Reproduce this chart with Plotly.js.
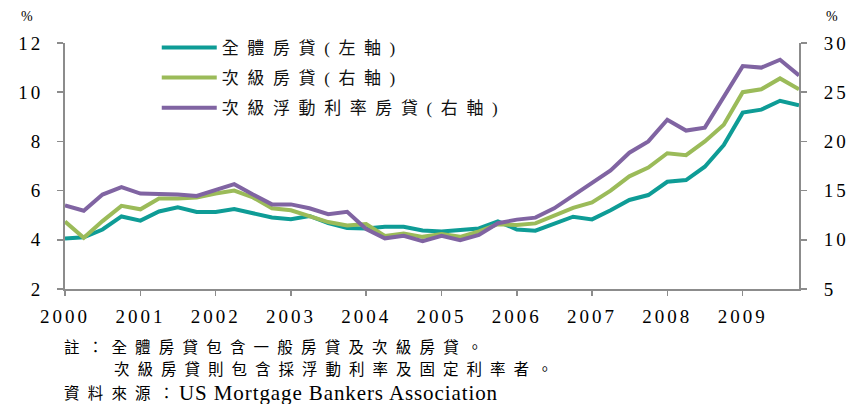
<!DOCTYPE html>
<html>
<head>
<meta charset="utf-8">
<script src="https://cdn.plot.ly/plotly-3.0.1.min.js"></script>
<style>
  html, body { margin: 0; padding: 0; background: #fff; }
  #chart { width: 854px; height: 404px; }
  .xtick text, .ytick text, .y2tick text {
    letter-spacing: 3px; font-family: 'Liberation Serif', serif !important;
  }
  .legendtext {
    letter-spacing: 8.6px; font-family: 'Liberation Serif', 'Noto Sans CJK TC', serif !important;
  }
  .annotation-text { font-family: 'Liberation Serif', 'Noto Sans CJK TC', serif !important; }
</style>
</head>
<body>
<div id="chart"></div>
<script>
// Quarterly observations, 2000Q1 - 2009Q4
const quarters = [
  '2000-01-01','2000-04-01','2000-07-01','2000-10-01',
  '2001-01-01','2001-04-01','2001-07-01','2001-10-01',
  '2002-01-01','2002-04-01','2002-07-01','2002-10-01',
  '2003-01-01','2003-04-01','2003-07-01','2003-10-01',
  '2004-01-01','2004-04-01','2004-07-01','2004-10-01',
  '2005-01-01','2005-04-01','2005-07-01','2005-10-01',
  '2006-01-01','2006-04-01','2006-07-01','2006-10-01',
  '2007-01-01','2007-04-01','2007-07-01','2007-10-01',
  '2008-01-01','2008-04-01','2008-07-01','2008-10-01',
  '2009-01-01','2009-04-01','2009-07-01','2009-10-01'
];
const yearTicks = ['2000-01-01','2001-01-01','2002-01-01','2003-01-01','2004-01-01',
                   '2005-01-01','2006-01-01','2007-01-01','2008-01-01','2009-01-01'];

// 全體房貸 (left axis, %)
const allLoans = [
  4.05, 4.10, 4.42, 4.95, 4.78, 5.15, 5.32, 5.13, 5.13, 5.25,
  5.08, 4.91, 4.84, 4.97, 4.68, 4.48, 4.46, 4.53, 4.53, 4.38,
  4.34, 4.40, 4.46, 4.75, 4.42, 4.37, 4.65, 4.94, 4.83, 5.20,
  5.62, 5.82, 6.36, 6.43, 6.97, 7.85, 9.17, 9.29, 9.65, 9.47
];
// 次級房貸 (right axis, %)
const subprime = [
  11.85, 10.20, 11.90, 13.45, 13.10, 14.20, 14.20, 14.30, 14.70, 15.00,
  14.30, 13.20, 13.00, 12.40, 11.80, 11.45, 11.60, 10.40, 10.65, 10.30,
  10.60, 10.30, 10.85, 11.58, 11.50, 11.67, 12.45, 13.25, 13.80, 15.00,
  16.45, 17.35, 18.80, 18.60, 20.00, 21.70, 25.00, 25.30, 26.40, 25.30
];
// 次級浮動利率房貸 (right axis, %)
const subprimeArm = [
  13.50, 12.95, 14.60, 15.35, 14.70, 14.70, 14.60, 14.45, 15.05, 15.65,
  14.60, 13.60, 13.60, 13.20, 12.60, 12.85, 11.10, 10.15, 10.40, 9.85,
  10.40, 9.95, 10.50, 11.68, 12.05, 12.25, 13.20, 14.50, 15.85, 17.05,
  18.85, 20.00, 22.20, 21.10, 21.40, 24.50, 27.65, 27.50, 28.30, 26.70
];

const names = ['全體房貸(左軸)', '次級房貸(右軸)', '次級浮動利率房貸(右軸)'];
const colors = ['#0e9c96', '#9bbb59', '#8064a2'];

const latin = 'Liberation Serif';
const cjk = 'Liberation Serif, Noto Sans CJK TC';
const axisGray = '#8c8c8c';

const traces = [
  { x: quarters, y: allLoans, name: names[0], yaxis: 'y', legendgroup: 'a' },
  { x: quarters, y: subprime, name: names[1], yaxis: 'y2', legendgroup: 'b' },
  { x: quarters, y: subprimeArm, name: names[2], yaxis: 'y2', legendgroup: 'c' }
].map((t, i) => Object.assign(t, {
  type: 'scatter', mode: 'lines',
  line: { color: colors[i], width: 4 },
  hoverinfo: 'skip'
}));

function tickFont() { return { family: latin, size: 19, color: '#000' }; }

const layout = {
  width: 854, height: 404,
  margin: { l: 65, r: 55, t: 43, b: 115, pad: 0 },
  paper_bgcolor: '#fff', plot_bgcolor: '#fff',
  showlegend: true,
  legend: {
    x: 0.125, y: 1.053, xanchor: 'left', yanchor: 'top',
    font: { family: cjk, size: 17, color: '#111' },
    bgcolor: 'rgba(0,0,0,0)', tracegroupgap: 5, itemwidth: 55
  },
  xaxis: {
    type: 'date', range: ['2000-01-01', '2009-10-01'],
    tickvals: yearTicks, tickformat: '%Y',
    ticks: 'outside', ticklen: 5, tickwidth: 1.5, tickcolor: axisGray,
    showline: true, linecolor: axisGray, linewidth: 2,
    showgrid: false, zeroline: false, tickfont: tickFont(), ticklabelstandoff: 4
  },
  yaxis: {
    range: [2, 12], dtick: 2, tick0: 2,
    ticks: 'outside', ticklen: 6, tickwidth: 1.5, tickcolor: axisGray,
    showline: true, linecolor: axisGray, linewidth: 2,
    showgrid: false, zeroline: false, tickfont: tickFont(), ticklabelstandoff: 10
  },
  yaxis2: {
    overlaying: 'y', side: 'right',
    range: [5, 30], dtick: 5, tick0: 5,
    ticks: 'outside', ticklen: 6, tickwidth: 1.5, tickcolor: axisGray,
    showline: true, linecolor: axisGray, linewidth: 2,
    showgrid: false, zeroline: false, tickfont: tickFont(), ticklabelstandoff: 13
  },
  annotations: [
    { text: '%', xref: 'paper', yref: 'paper', x: -0.052, y: 1.106, xanchor: 'center', yanchor: 'middle',
      showarrow: false, font: { family: latin, size: 14, color: '#000' } },
    { text: '%', xref: 'paper', yref: 'paper', x: 1.045, y: 1.106, xanchor: 'center', yanchor: 'middle',
      showarrow: false, font: { family: latin, size: 14, color: '#000' } },
    { text: '<span style="letter-spacing:8.2px">註：全體房貸包含一般房貸及次級房貸。</span>',
      xref: 'paper', yref: 'paper', x: -0.004, y: -0.236, xanchor: 'left', yanchor: 'middle',
      showarrow: false, font: { family: cjk, size: 15.5, color: '#000' } },
    { text: '<span style="letter-spacing:8px">次級房貸則包含採浮動利率及固定利率者。</span>',
      xref: 'paper', yref: 'paper', x: 0.064, y: -0.329, xanchor: 'left', yanchor: 'middle',
      showarrow: false, font: { family: cjk, size: 15.5, color: '#000' } },
    { text: '<span style="letter-spacing:8.2px">資料來源：</span>',
      xref: 'paper', yref: 'paper', x: -0.004, y: -0.423, xanchor: 'left', yanchor: 'middle',
      showarrow: false, font: { family: cjk, size: 15.5, color: '#000' } },
    { text: '<span style="letter-spacing:0.9px">US Mortgage Bankers Association</span>',
      xref: 'paper', yref: 'paper', x: 0.152, y: -0.423, xanchor: 'left', yanchor: 'middle',
      showarrow: false, font: { family: latin, size: 21, color: '#000' } }
  ]
};

Plotly.newPlot('chart', traces, layout, { staticPlot: true, displayModeBar: false });
</script>
</body>
</html>
